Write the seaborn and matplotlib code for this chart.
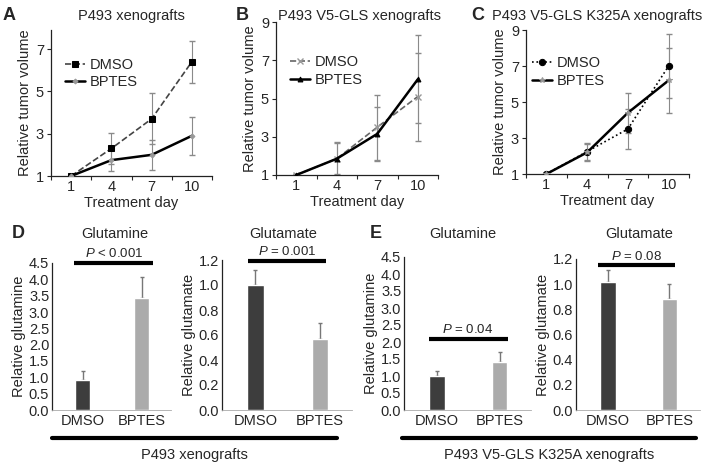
import numpy as np
import pandas as pd
import matplotlib
matplotlib.use("Agg")
import matplotlib.pyplot as plt
from matplotlib.lines import Line2D
import seaborn as sns

sns.set_style("white")
plt.rcParams['font.family'] = ['Liberation Sans', 'DejaVu Sans']
plt.rcParams['mathtext.fontset'] = 'custom'
plt.rcParams['mathtext.rm'] = 'Liberation Sans'
plt.rcParams['mathtext.it'] = 'Liberation Sans:italic'
plt.rcParams['font.size'] = 10

# ---- data: tumor volume (A-C) ----
days = [1, 4, 7, 10]
a_dmso = [1.0, 2.3, 3.7, 6.4]
a_dmso_err = [0.05, 0.75, 1.2, 1.0]
a_bptes = [1.0, 1.75, 2.0, 2.9]
a_bptes_err = [0.05, 0.5, 0.7, 0.9]

b_dmso = [1.0, 1.85, 3.5, 5.1]
b_dmso_err = [0.05, 0.85, 1.7, 2.3]
b_bptes = [1.0, 1.85, 3.15, 6.0]
b_bptes_err = [0.05, 0.8, 1.4, 2.3]

c_dmso = [1.0, 2.25, 3.5, 7.0]
c_dmso_err = [0.05, 0.45, 1.1, 1.8]
c_bptes = [1.0, 2.2, 4.4, 6.2]
c_bptes_err = [0.05, 0.45, 1.1, 1.8]

# ---- data: metabolites (D, E) ----
groups = ["DMSO", "BPTES"]
d_gln = [0.93, 3.42]
d_gln_err = [0.25, 0.65]
d_glu = [1.0, 0.565]
d_glu_err = [0.12, 0.135]
e_gln = [1.0, 1.42]
e_gln_err = [0.15, 0.3]
e_glu = [1.02, 0.88]
e_glu_err = [0.09, 0.12]
pvals = ["$P$ < 0.001", "$P$ = 0.001", "$P$ = 0.04", "$P$ = 0.08"]

W, H = 712, 470
fig = plt.figure(figsize=(W / 100, H / 100), dpi=100)


def px_axes(l, t, r, b):
    return fig.add_axes([l / W, 1 - b / H, (r - l) / W, (b - t) / H])


def style(ax):
    for s in ['top', 'right']:
        ax.spines[s].set_visible(False)
    for s in ['left', 'bottom']:
        ax.spines[s].set_color('#222222')
        ax.spines[s].set_linewidth(0.9)


def line_panel(box, title, title_x, ylim, yticks, s1, e1, s2, e2, st1, st2, leg_xy):
    ax = px_axes(*box)
    style(ax)
    ax.errorbar(days, s1, yerr=e1, fmt='none', ecolor='#8a8a8a', elinewidth=0.8, capsize=2, zorder=1)
    ax.errorbar(days, s2, yerr=e2, fmt='none', ecolor='#8a8a8a', elinewidth=0.8, capsize=2, zorder=1)
    sns.lineplot(x=days, y=s1, ax=ax, label="DMSO", zorder=3, **st1)
    sns.lineplot(x=days, y=s2, ax=ax, label="BPTES", zorder=3, **st2)
    ax.set_xlim(-0.5, 11.5)
    ax.set_ylim(*ylim)
    ax.set_yticks(yticks)
    ax.set_xticks([-0.5, 2.5, 5.5, 8.5, 11.5])
    ax.set_xticklabels([])
    ax.set_xticks(days, minor=True)
    ax.set_xticklabels([str(d) for d in days], minor=True, fontsize=10.5)
    ax.tick_params(axis='x', which='major', direction='out', length=3, width=0.8, bottom=True)
    ax.tick_params(axis='x', which='minor', length=0, pad=3)
    ax.tick_params(axis='y', direction='out', length=3, width=0.8, left=True, labelsize=10.5, pad=2)
    ax.set_xlabel("Treatment day", fontsize=10.5, labelpad=1)
    ax.set_ylabel("Relative tumor volume", fontsize=10.5, labelpad=3)
    fig.text(title_x / W, 1 - 16 / H, title, fontsize=10.5, ha='center', va='center')
    ax.legend(loc='upper left', bbox_to_anchor=leg_xy, frameon=False, fontsize=10.5,
              handlelength=1.4, handletextpad=0.3, labelspacing=0.25, borderaxespad=0)
    return ax


line_panel((51, 30, 212, 176), "P493 xenografts", 131, (1, 7.9), [1, 3, 5, 7],
           a_dmso, a_dmso_err, a_bptes, a_bptes_err,
           dict(color='#444444', linestyle='--', lw=1.2, marker='s', markersize=5,
                markerfacecolor='black', markeredgecolor='black'),
           dict(color='black', linestyle='-', lw=1.8, marker='D', markersize=2.5,
                markerfacecolor='#999999', markeredgecolor='#999999'),
           (0.05, 0.85))

line_panel((276, 22, 438, 175), "P493 V5-GLS xenografts", 360, (1, 9), [1, 3, 5, 7, 9],
           b_dmso, b_dmso_err, b_bptes, b_bptes_err,
           dict(color='#666666', linestyle='--', lw=1.2, marker='x', markersize=4,
                markeredgecolor='#999999', markeredgewidth=1),
           dict(color='black', linestyle='-', lw=1.8, marker='^', markersize=3.5,
                markerfacecolor='black', markeredgecolor='black'),
           (0.05, 0.82))

line_panel((526, 30, 689, 174), "P493 V5-GLS K325A xenografts", 597, (1, 9), [1, 3, 5, 7, 9],
           c_dmso, c_dmso_err, c_bptes, c_bptes_err,
           dict(color='black', linestyle=':', lw=1.2, marker='o', markersize=4.5,
                markerfacecolor='black', markeredgecolor='black'),
           dict(color='black', linestyle='-', lw=1.8, marker='*', markersize=4,
                markerfacecolor='#999999', markeredgecolor='#999999'),
           (0.0, 0.86))


def bar_panel(box, title, title_x, ylabel, vals, errs, ylim, yticks, ptext, py, xr):
    ax = px_axes(*box)
    style(ax)
    ax.spines['bottom'].set_color('#aaaaaa')
    ax.spines['bottom'].set_linewidth(0.6)
    df = pd.DataFrame({"group": groups, "value": vals})
    sns.barplot(data=df, x="group", y="value", hue="group", palette=["#3d3d3d", "#ababab"],
                width=0.25, legend=False, ax=ax, errorbar=None, zorder=2)
    ax.errorbar([0, 1], vals, yerr=[[0, 0], errs], fmt='none', ecolor='#777777',
                elinewidth=1, capsize=1.5, zorder=1)
    ax.set_xlim(-0.52, 1.5)
    ax.set_ylim(*ylim)
    ax.set_yticks(yticks)
    ax.set_yticklabels(["{:.1f}".format(v) for v in yticks])
    ax.tick_params(axis='y', length=0, labelsize=10.5, pad=2)
    ax.tick_params(axis='x', length=0, labelsize=10.5, pad=3)
    ax.set_xlabel("")
    ax.set_ylabel(ylabel, fontsize=10.5, labelpad=2)
    fig.text(title_x / W, 1 - 234 / H, title, fontsize=10.5, ha='center', va='center')
    ax.plot(xr, [py, py], color='black', lw=3, clip_on=False, solid_capstyle='butt')
    ax.annotate(ptext, xy=(np.mean(xr), py), xytext=(0, 2), textcoords='offset points',
                ha='center', va='bottom', fontsize=9.5, annotation_clip=False)
    return ax


gln_ticks = list(np.arange(0, 4.51, 0.5))
glu_ticks = list(np.arange(0, 1.21, 0.2))
bar_panel((52, 263, 171, 410), "Glutamine", 115, "Relative glutamine", d_gln, d_gln_err,
          (0, 4.5), gln_ticks, pvals[0], 4.5, (-0.14, 1.2))
bar_panel((222, 260, 352, 410), "Glutamate", 283, "Relative glutamate", d_glu, d_glu_err,
          (0, 1.2), glu_ticks, pvals[1], 1.19, (-0.11, 1.09))
bar_panel((404, 257, 531, 410), "Glutamine", 463, "Relative glutamine", e_gln, e_gln_err,
          (0, 4.5), gln_ticks, pvals[2], 2.1, (-0.13, 1.13))
bar_panel((576, 259, 700, 410), "Glutamate", 639, "Relative glutamate", e_glu, e_glu_err,
          (0, 1.2), glu_ticks, pvals[3], 1.15, (-0.16, 1.1))

# group lines and labels under D and E
for x0, x1, label in [(52, 337, "P493 xenografts"), (402, 696, "P493 V5-GLS K325A xenografts")]:
    fig.add_artist(Line2D([x0 / W, x1 / W], [1 - 438 / H] * 2, color='black', lw=3))
    fig.text((x0 + x1) / 2 / W, 1 - 455 / H, label, ha='center', va='center', fontsize=10.5)

# panel letters
for x, y, letter in [(3, 15, "A"), (236, 15, "B"), (471, 15, "C"), (12, 233, "D"), (370, 233, "E")]:
    fig.text(x / W, 1 - y / H, letter, fontsize=13, fontweight='bold', va='center', ha='left')

fig.savefig("out.png", dpi=100)
